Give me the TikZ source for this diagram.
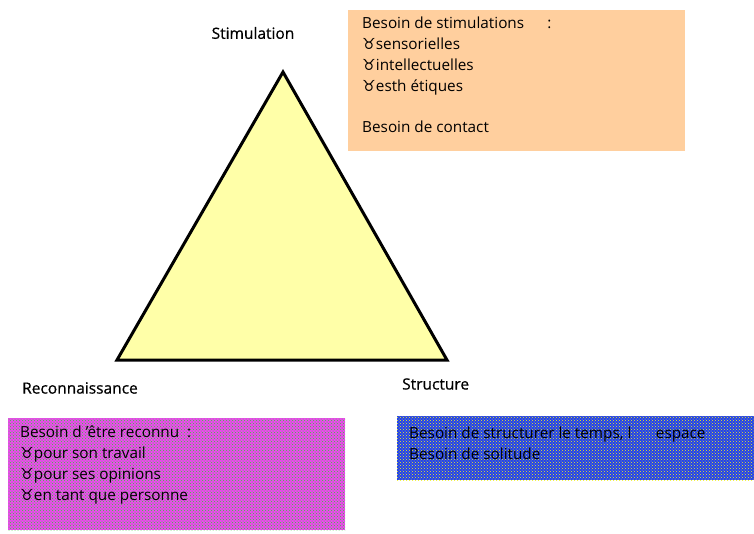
\documentclass[tikz,border=0pt]{standalone}
\usepackage{fontspec}
\setmainfont{Open Sans}
\newfontfamily\symfont{DejaVu Sans}
\usetikzlibrary{patterns}
\definecolor{triyellow}{HTML}{FFFFA8}
\definecolor{peach}{HTML}{FFCF9E}
\definecolor{magbox}{HTML}{EE48F0}
\definecolor{meshgreen}{HTML}{30D030}
\definecolor{bluebox}{HTML}{2040F0}
\definecolor{meshyellow}{HTML}{F0F020}
\newcommand{\tb}{{\symfont\char"2649}}
\begin{document}
\begin{tikzpicture}[x=1pt,y=-1pt,
  lbl/.style={font=\fontsize{15.5}{17}\selectfont\addfontfeature{FakeBold=0.6}, inner sep=0pt},
  boxtext/.style={font=\fontsize{15.3}{20.8}\selectfont, align=left, inner sep=0pt, anchor=north west}]
\useasboundingbox (0,0) rectangle (754,533);
\fill[white] (0,0) rectangle (754,533);

% triangle
\coordinate (top) at (283,72);
\coordinate (bl) at (117,360);
\coordinate (br) at (447,360);
\draw[line width=3pt, fill=triyellow, line join=miter] (top) -- (br) -- (bl) -- cycle;

\node[lbl] (stim) at (253,33) {Stimulation};
\node[lbl, anchor=west] (reco) at (22,388) {Reconnaissance};
\node[lbl, anchor=west] (struc) at (402,384) {Structure};

% stimulation box
\fill[peach] (348,10) rectangle (685,151);
\node[boxtext] (stimtxt) at (362,17) {Besoin de stimulations\quad\ \ :\\
\tb sensorielles\\ \tb intellectuelles\\ \tb esth étiques\\[20.8pt]Besoin de contact};

% recognition box, textured fill
\fill[magbox] (8,418) rectangle (345,530);
\fill[pattern=crosshatch dots, pattern color=meshgreen] (8,418) rectangle (345,530);
\node[boxtext] (recotxt) at (20,426) {Besoin d 'être reconnu\ \ :\\
\tb pour son travail\\ \tb pour ses opinions\\ \tb en tant que personne};

% structure box, textured fill
\fill[bluebox] (397,416) rectangle (754,480);
\fill[pattern=crosshatch dots, pattern color=meshyellow] (397,416) rectangle (754,480);
\node[boxtext] (structxt) at (409,427) {Besoin de structurer le temps, l\hspace{1.6em}espace\\ Besoin de solitude};
\end{tikzpicture}
\end{document}
